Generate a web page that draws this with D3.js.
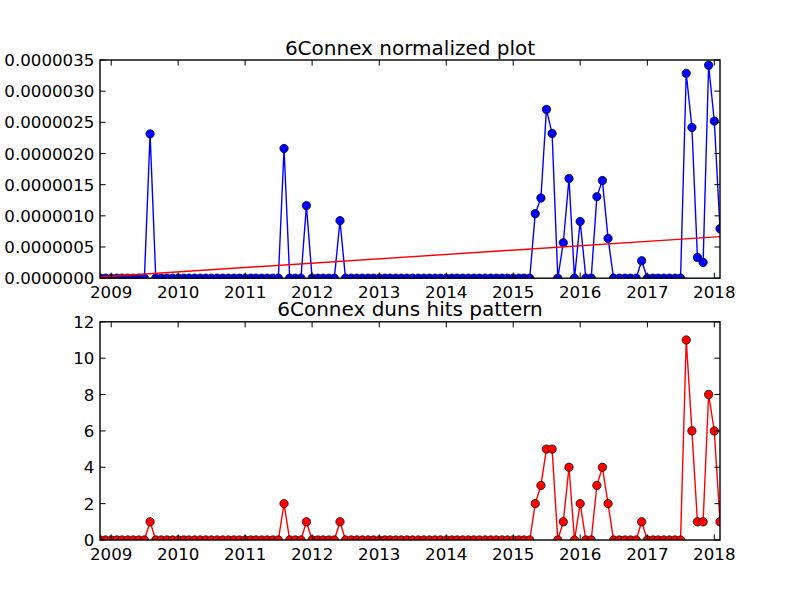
<!DOCTYPE html>
<html>
<head>
<meta charset="utf-8">
<script src="https://cdn.jsdelivr.net/npm/d3@7"></script>
<style>
    body { margin: 0; background: #fff; }
    svg { display: block; font-family: "DejaVu Sans", sans-serif; }
</style>
</head>
<body>
<svg id="chart" width="800" height="600"></svg>
<script>
// monthly samples, Nov 2008 .. Feb 2018
const firstMonth = new Date(2008, 10, 1);
const lastMonth = new Date(2018, 1, 1);
const months = d3.timeMonth.range(firstMonth, d3.timeMonth.offset(lastMonth, 1));

// duns hits per month (one row per year)
const hits = [
    0, 0,                                   // 2008 Nov-Dec
    0, 0, 0, 0, 0, 0, 0, 1, 0, 0, 0, 0,     // 2009
    0, 0, 0, 0, 0, 0, 0, 0, 0, 0, 0, 0,     // 2010
    0, 0, 0, 0, 0, 0, 0, 2, 0, 0, 0, 1,     // 2011
    0, 0, 0, 0, 0, 1, 0, 0, 0, 0, 0, 0,     // 2012
    0, 0, 0, 0, 0, 0, 0, 0, 0, 0, 0, 0,     // 2013
    0, 0, 0, 0, 0, 0, 0, 0, 0, 0, 0, 0,     // 2014
    0, 0, 0, 0, 2, 3, 5, 5, 0, 1, 4, 0,     // 2015
    2, 0, 0, 3, 4, 2, 0, 0, 0, 0, 0, 1,     // 2016
    0, 0, 0, 0, 0, 0, 0, 11, 6, 1, 1, 8,    // 2017
    6, 1                                    // 2018 Jan-Feb
];

// normalized hits, units of 1e-6 (same month layout as hits)
const normalized = [
    0, 0,                                               // 2008 Nov-Dec
    0, 0, 0, 0, 0, 0, 0, 2.315, 0, 0, 0, 0,             // 2009
    0, 0, 0, 0, 0, 0, 0, 0, 0, 0, 0, 0,                 // 2010
    0, 0, 0, 0, 0, 0, 0, 2.08, 0, 0, 0, 1.164,          // 2011
    0, 0, 0, 0, 0, 0.923, 0, 0, 0, 0, 0, 0,             // 2012
    0, 0, 0, 0, 0, 0, 0, 0, 0, 0, 0, 0,                 // 2013
    0, 0, 0, 0, 0, 0, 0, 0, 0, 0, 0, 0,                 // 2014
    0, 0, 0, 0, 1.035, 1.286, 2.707, 2.32, 0, 0.569, 1.598, 0,   // 2015
    0.91, 0, 0, 1.308, 1.566, 0.638, 0, 0, 0, 0, 0, 0.279,      // 2016
    0, 0, 0, 0, 0, 0, 0, 3.286, 2.418, 0.333, 0.252, 3.415,     // 2017
    2.519, 0.794                                        // 2018 Jan-Feb
];

// trend line values at first and last month, units of 1e-6
const trend = [0.02, 0.666];

const yearTicks = d3.timeYear.range(new Date(2009, 0, 1), new Date(2018, 0, 2));
const topYTicks = [0, 0.5, 1, 1.5, 2, 2.5, 3, 3.5];
const bottomYTicks = [0, 2, 4, 6, 8, 10, 12];

const svg = d3.select("#chart");
const fontSize = 16.67;
const tickLen = 5.6;

const x = d3.scaleTime().domain([firstMonth, lastMonth]).range([100, 720]);

function drawPanel(opts) {
    const y = d3.scaleLinear().domain(opts.yDomain).range([opts.y1, opts.y0]);
    const g = svg.append("g");

    g.append("defs").append("clipPath").attr("id", opts.id)
        .append("rect")
        .attr("x", 100).attr("y", opts.y0)
        .attr("width", 620).attr("height", opts.y1 - opts.y0);

    const plot = g.append("g").attr("clip-path", `url(#${opts.id})`);

    opts.series.forEach(s => {
        const line = d3.line()
            .x((d, i) => x(s.dates[i]))
            .y(d => y(d));
        plot.append("path")
            .datum(s.values)
            .attr("fill", "none")
            .attr("stroke", s.color)
            .attr("stroke-width", 1.4)
            .attr("stroke-linejoin", "round")
            .attr("d", line);
        if (s.markers) {
            plot.selectAll(null)
                .data(s.values)
                .enter()
                .append("circle")
                .attr("cx", (d, i) => x(s.dates[i]))
                .attr("cy", d => y(d))
                .attr("r", 4.2)
                .attr("fill", s.color)
                .attr("stroke", "#000")
                .attr("stroke-width", 0.7);
        }
    });

    // frame
    g.append("rect")
        .attr("x", 100).attr("y", opts.y0)
        .attr("width", 620).attr("height", opts.y1 - opts.y0)
        .attr("fill", "none")
        .attr("stroke", "#000")
        .attr("stroke-width", 1.4);

    // x ticks (inside, bottom + top)
    yearTicks.forEach(t => {
        const px = x(t);
        g.append("line").attr("x1", px).attr("x2", px)
            .attr("y1", opts.y1).attr("y2", opts.y1 - tickLen)
            .attr("stroke", "#000").attr("stroke-width", 1);
        g.append("line").attr("x1", px).attr("x2", px)
            .attr("y1", opts.y0).attr("y2", opts.y0 + tickLen)
            .attr("stroke", "#000").attr("stroke-width", 1);
        g.append("text")
            .attr("x", px).attr("y", opts.y1 + 19.7)
            .attr("text-anchor", "middle")
            .style("font-size", fontSize + "px")
            .text(d3.timeFormat("%Y")(t));
    });

    // y ticks (inside, left + right)
    opts.yTicks.forEach(v => {
        const py = y(v);
        g.append("line").attr("x1", 100).attr("x2", 100 + tickLen)
            .attr("y1", py).attr("y2", py)
            .attr("stroke", "#000").attr("stroke-width", 1);
        g.append("line").attr("x1", 720).attr("x2", 720 - tickLen)
            .attr("y1", py).attr("y2", py)
            .attr("stroke", "#000").attr("stroke-width", 1);
        g.append("text")
            .attr("x", 100 - 5.6).attr("y", py + 6)
            .attr("text-anchor", "end")
            .style("font-size", fontSize + "px")
            .text(opts.yFormat(v));
    });

    g.append("text")
        .attr("x", 410).attr("y", opts.y0 - 5.5)
        .attr("text-anchor", "middle")
        .style("font-size", "20px")
        .text(opts.title);
}

drawPanel({
    id: "clipTop",
    y0: 60, y1: 278.18,
    yDomain: [0, 3.5],
    yTicks: topYTicks,
    yFormat: v => d3.format(".7f")(v * 1e-6),
    title: "6Connex normalized plot",
    series: [
        { dates: months, values: normalized, color: "#0000ff", markers: true },
        { dates: [firstMonth, lastMonth], values: trend, color: "#ff0000", markers: false }
    ]
});

drawPanel({
    id: "clipBottom",
    y0: 321.82, y1: 540,
    yDomain: [0, 12],
    yTicks: bottomYTicks,
    yFormat: d3.format("d"),
    title: "6Connex duns hits pattern",
    series: [
        { dates: months, values: hits, color: "#ff0000", markers: true }
    ]
});
</script>
</body>
</html>
